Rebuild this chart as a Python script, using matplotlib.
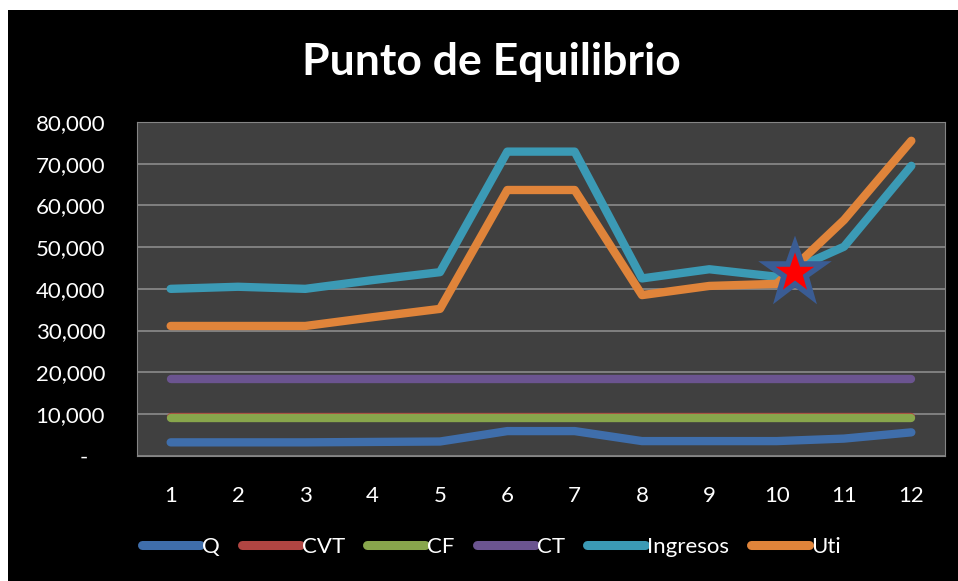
import numpy as np
import matplotlib
matplotlib.use("Agg")
import matplotlib.pyplot as plt
from matplotlib.markers import MarkerStyle
from matplotlib.ticker import FuncFormatter

plt.rcParams['font.family'] = ['Lato', 'DejaVu Sans']

periodos = list(range(1, 13))
Q = [3200, 3200, 3200, 3300, 3400, 5900, 5900, 3500, 3500, 3500, 4100, 5600]
CVT = [9300] * 12
CF = [9000] * 12
CT = [18300] * 12
ingresos = [40000, 40500, 40000, 42100, 44000, 72900, 72900, 42500, 44700, 42900, 50100, 69500]
uti = [31100, 31100, 31100, 33200, 35200, 63700, 63700, 38500, 40700, 41200, 56500, 75500]
series = ["Q", "CVT", "CF", "CT", "Ingresos", "Uti"]
colores = ["#3f6eab", "#b04542", "#88a64c", "#6b5490", "#3b9ab5", "#e0843a"]
equilibrio_x, equilibrio_y = 10.27, 43700

fig = plt.figure(figsize=(9.58, 5.81), dpi=100, facecolor="white")
# black chart area with thin white margin on top/left
fig.patches.append(plt.Rectangle((8/958, 0), 1, 1 - 10/581, transform=fig.transFigure,
                                 facecolor="black", edgecolor="none", zorder=-1))
ax = fig.add_axes([137/958, 1 - 455.7/581, 808/958, (455.7 - 122)/581])
ax.set_zorder(2)
ax.set_facecolor("#404040")

for nombre, vals, c in zip(series, [Q, CVT, CF, CT, ingresos, uti], colores):
    ax.plot(periodos, vals, color=c, lw=6, label=nombre,
            solid_capstyle="round", solid_joinstyle="round")

# punto de equilibrio
estrella = MarkerStyle("*", joinstyle="miter")
ax.plot([equilibrio_x], [equilibrio_y], marker=estrella, markersize=42, color="red",
        markeredgecolor="#3a5c94", markeredgewidth=4, zorder=5)

ax.set_xlim(0.5, 12.5)
ax.set_ylim(0, 80000)
ax.set_xticks(periodos)
ax.set_yticks(np.arange(0, 80001, 10000))
ax.yaxis.set_major_formatter(FuncFormatter(lambda v, p: "-   " if v == 0 else f"{v:,.0f}"))
ax.grid(axis="y", color="#858585", lw=1.3)
ax.set_axisbelow(True)
for s in ax.spines.values():
    s.set_color("#858585")
ax.tick_params(axis="both", colors="white", labelsize=16, length=0)
ax.tick_params(axis="y", pad=23)
ax.tick_params(axis="x", pad=22)

fig.text(0.513, 1 - 62/581, "Punto de Equilibrio", color="white", fontsize=32,
         fontweight="bold", ha="center", va="center", zorder=3)

leg = fig.legend(loc="center", bbox_to_anchor=(0.513, 1 - 547/581), ncol=6,
                 frameon=False, fontsize=16, handlelength=2.6, handletextpad=0.1,
                 columnspacing=1.0, labelcolor="white")
leg.set_zorder(3)
for h in leg.legend_handles:
    h.set_linewidth(6.5)

fig.savefig("out.png", dpi=100, facecolor=fig.get_facecolor())
